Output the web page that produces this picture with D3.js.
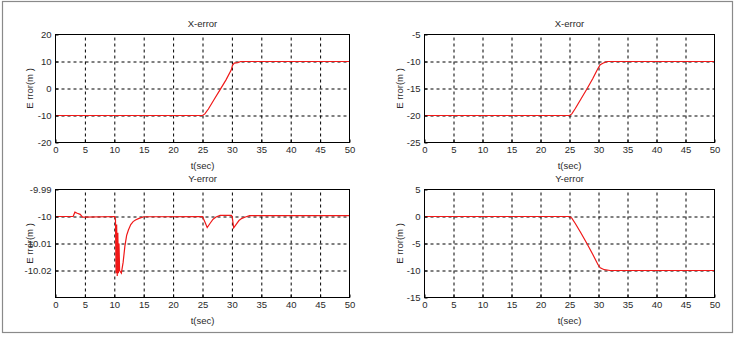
<!DOCTYPE html>
<html>
<head>
<meta charset="utf-8">
<script src="https://cdn.jsdelivr.net/npm/d3@7"></script>
<style>
  body { margin: 0; background: #fff; }
  text { font-family: "Liberation Sans", Arial, sans-serif; fill: #2a2a2a; }
</style>
</head>
<body>
<div id="chart"></div>
<script>
// values
var timeTicks = [0, 5, 10, 15, 20, 25, 30, 35, 40, 45, 50];

// top left: X-error
var xErrLeftT = [0, 25, 25.4, 26, 27, 28, 29, 29.9, 30.1, 30.4, 31, 31.5, 50];
var xErrLeftV = [-10, -10, -9.4, -7.6, -4.0, -0.4, 3.2, 6.9, 8.6, 9.4, 9.6, 10, 10];
var xErrLeftTicks = [-20, -10, 0, 10, 20];

// bottom left: Y-error (zoomed in around -10)
var yErrLeftT = [0, 3.0, 3.3, 3.7, 4.2, 4.6, 5.0, 10.1, 10.2, 10.3, 10.4, 10.5, 10.6, 10.7, 10.8, 10.9,
  11.2, 11.5, 11.8, 12.1, 12.4, 12.8, 13.2, 13.6, 14.1, 15.0, 25.0, 25.3, 25.8, 26.3, 26.8, 27.3, 28,
  29.9, 30.05, 30.3, 30.7, 31.2, 31.7, 32.3, 33, 50];
var yErrLeftV = [-10, -10, -9.9984, -9.9988, -9.9992, -10.0002, -10.0002, -10.0, -10.001, -10.021, -10.003,
  -10.022, -10.006, -10.021, -10.010, -10.020,
  -10.021, -10.017, -10.011, -10.007, -10.005, -10.003, -10.0019, -10.0013, -10.0008, -10.0001, -10.0,
  -10.0015, -10.0041, -10.0025, -10.001, -10.0002, -9.9996,
  -9.9996, -10.0, -10.0042, -10.003, -10.0015, -10.0007, -10.0002, -9.9997, -9.9997];
var yErrLeftTicks = [-10.02, -10.01, -10, -9.99];

// top right: X-error
var xErrRightT = [0, 25, 25.4, 26, 27, 28, 29, 29.9, 30.3, 31, 31.5, 50];
var xErrRightV = [-20, -20, -19.7, -18.7, -16.9, -15.1, -13.2, -11.3, -10.6, -10.2, -10, -10];
var xErrRightTicks = [-25, -20, -15, -10, -5];

// bottom right: Y-error
var yErrRightT = [0, 25, 25.4, 26, 27, 28, 29, 29.9, 30.3, 31, 32, 50];
var yErrRightV = [0, 0, -0.3, -1.3, -3.1, -5.0, -7.0, -8.9, -9.5, -9.85, -10, -10];
var yErrRightTicks = [-15, -10, -5, 0, 5];

var totalWidth = 738;
var totalHeight = 339;

var svg = d3.select("#chart").append("svg")
    .attr("width", totalWidth)
    .attr("height", totalHeight);

// outer frame
svg.append("rect")
    .attr("x", 2.5).attr("y", 1.5)
    .attr("width", 730).attr("height", 331)
    .attr("fill", "none")
    .attr("stroke", "#8a8a8a")
    .attr("stroke-width", 1.2);

var panels = [
    {title: "X-error", t: xErrLeftT, v: xErrLeftV, ticks: xErrLeftTicks, dom: [-20, 20],
     x0: 55.5, x1: 349.5, y0: 34.5, y1: 142.5, labelX: 33},
    {title: "Y-error", t: yErrLeftT, v: yErrLeftV, ticks: yErrLeftTicks, dom: [-10.03, -9.99],
     x0: 55.5, x1: 349.5, y0: 189.5, y1: 297.5, labelX: 33},
    {title: "X-error", t: xErrRightT, v: xErrRightV, ticks: xErrRightTicks, dom: [-25, -5],
     x0: 424.5, x1: 714.5, y0: 34.5, y1: 142.5, labelX: 403},
    {title: "Y-error", t: yErrRightT, v: yErrRightV, ticks: yErrRightTicks, dom: [-15, 5],
     x0: 424.5, x1: 714.5, y0: 189.5, y1: 297.5, labelX: 403}
];

var fmt = function(d) { return String(+d.toFixed(2)); };

panels.forEach(function(p) {
    var w = p.x1 - p.x0, h = p.y1 - p.y0;
    var xSca = d3.scaleLinear().domain([0, 50]).range([0, w]);
    var ySca = d3.scaleLinear().domain(p.dom).range([h, 0]);

    var g = svg.append("g").attr("transform", "translate(" + p.x0 + "," + p.y0 + ")");

    // dashed grid
    var inner = function(d) { return d > 0 && d < 50; };
    g.append("g")
        .attr("transform", "translate(0," + h + ")")
        .call(d3.axisBottom(xSca).tickValues(timeTicks.filter(inner)).tickSize(-h).tickFormat(""))
        .call(function(a) { a.select(".domain").remove(); });
    g.append("g")
        .call(d3.axisLeft(ySca).tickValues(p.ticks.filter(function(d) {
            return d > p.dom[0] && d < p.dom[1];
        })).tickSize(-w).tickFormat(""))
        .call(function(a) { a.select(".domain").remove(); });
    g.selectAll(".tick line")
        .attr("stroke", "#000")
        .attr("stroke-dasharray", "3,3");

    // curve
    var pts = p.t.map(function(t, i) { return [t, p.v[i]]; });
    g.append("path")
        .datum(pts)
        .attr("fill", "none")
        .attr("stroke", "#f01818")
        .attr("stroke-width", 1.2)
        .attr("d", d3.line()
            .x(function(d) { return xSca(d[0]); })
            .y(function(d) { return ySca(d[1]); }));

    // axes with small inner ticks
    var xAA = g.append("g")
        .attr("transform", "translate(0," + h + ")")
        .call(d3.axisBottom(xSca).tickValues(timeTicks).tickSize(-3).tickPadding(4).tickFormat(fmt));
    var yAA = g.append("g")
        .call(d3.axisLeft(ySca).tickValues(p.ticks).tickSize(-3).tickPadding(4).tickFormat(fmt));
    [xAA, yAA].forEach(function(a) {
        a.select(".domain").remove();
        a.selectAll("line").attr("stroke", "#000");
        a.selectAll("text")
            .style("font-family", "'Liberation Sans', Arial, sans-serif")
            .style("font-size", "9.5px")
            .attr("fill", "#2a2a2a");
    });

    // box
    g.append("rect")
        .attr("width", w).attr("height", h)
        .attr("fill", "none")
        .attr("stroke", "#000")
        .attr("stroke-width", 1);

    g.append("text")
        .attr("x", w / 2)
        .attr("y", -8)
        .style("text-anchor", "middle")
        .style("font-size", "9.5px")
        .text(p.title);

    g.append("text")
        .attr("x", w / 2)
        .attr("y", h + 26)
        .style("text-anchor", "middle")
        .style("font-size", "9.5px")
        .text("t(sec)");

    svg.append("text")
        .attr("transform", "translate(" + p.labelX + "," + (p.y0 + h / 2) + ") rotate(-90)")
        .style("text-anchor", "middle")
        .style("font-size", "9.5px")
        .text("E rror(m )");
});
</script>
</body>
</html>
